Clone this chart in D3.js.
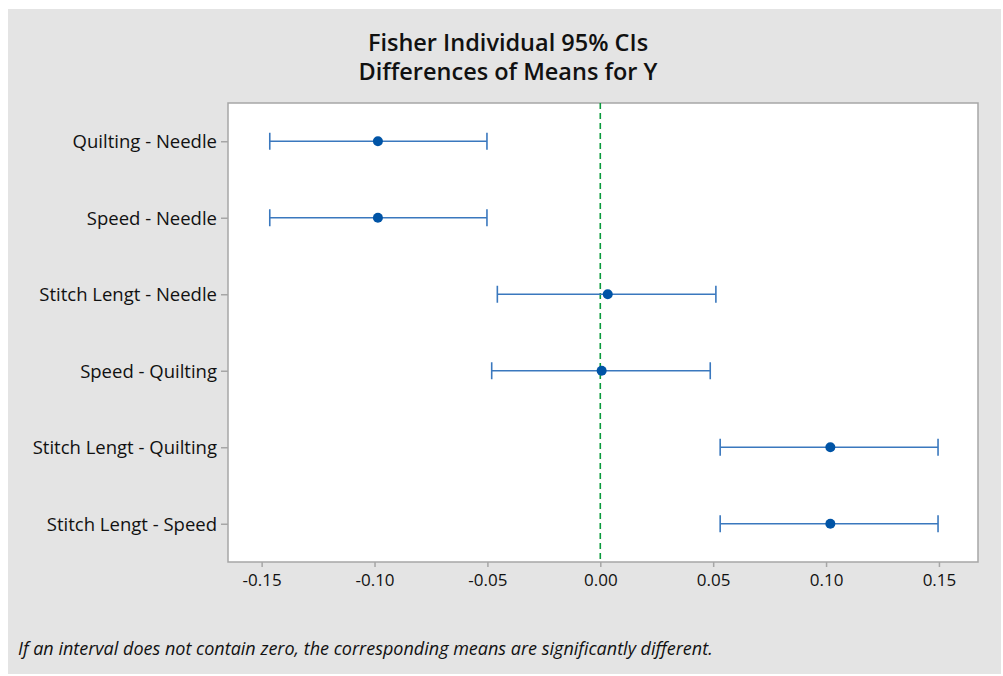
<!DOCTYPE html>
<html>
<head>
<meta charset="utf-8">
<script src="https://cdn.jsdelivr.net/npm/d3@7"></script>
<style>
  body { margin: 0; background: #fff; }
  svg { display: block; }
</style>
</head>
<body>
<script>
var w = 1003;
var h = 676;

var comparisons = ["Quilting - Needle", "Speed - Needle", "Stitch Lengt - Needle",
                   "Speed - Quilting", "Stitch Lengt - Quilting", "Stitch Lengt - Speed"];
var centers = [-0.0985, -0.0985, 0.0033, 0.0006, 0.1019, 0.1019];
var lowers  = [-0.1464, -0.1464, -0.0456, -0.0481, 0.0531, 0.0531];
var uppers  = [-0.0502, -0.0502, 0.0512, 0.0487, 0.1496, 0.1496];
var xTicks = [-0.15, -0.10, -0.05, 0.00, 0.05, 0.10, 0.15];

var plot = {left: 228, right: 978, top: 103, bottom: 562};
var font = "'Open Sans', 'Noto Sans', sans-serif";

var rows = comparisons.map(function(c, i) {
    return {name: c, mid: centers[i], lo: lowers[i], hi: uppers[i]};
});

var svg = d3.select("body").append("svg")
    .attr("width", w)
    .attr("height", h);

// grey frame
svg.append("rect")
    .attr("x", 8).attr("y", 9)
    .attr("width", 993).attr("height", 665)
    .attr("fill", "#e4e4e4");

var xScale = d3.scaleLinear()
    .domain([-0.1649, 0.1673])
    .range([plot.left, plot.right]);
var yScale = d3.scalePoint()
    .domain(comparisons)
    .range([plot.top, plot.bottom])
    .padding(0.5);

svg.append("rect")
    .attr("x", plot.left).attr("y", plot.top)
    .attr("width", plot.right - plot.left)
    .attr("height", plot.bottom - plot.top)
    .attr("fill", "#fff")
    .attr("stroke", "#a6a6a6")
    .attr("stroke-width", 1.5);

// title
var title = svg.append("text")
    .attr("text-anchor", "middle")
    .attr("font-family", font)
    .attr("font-weight", "600")
    .attr("font-size", "23.5px")
    .attr("fill", "#111");
title.append("tspan").attr("x", 508).attr("y", 51).text("Fisher Individual 95% CIs");
title.append("tspan").attr("x", 508).attr("y", 80).text("Differences of Means for Y");

// axes
var xAxis = d3.axisBottom(xScale)
    .tickValues(xTicks)
    .tickFormat(function(d) { return d.toFixed(2); })
    .tickSize(5)
    .tickPadding(7);
var yAxis = d3.axisLeft(yScale)
    .tickSize(7)
    .tickPadding(4);

var gx = svg.append("g")
    .attr("transform", "translate(0," + plot.bottom + ")")
    .call(xAxis);
var gy = svg.append("g")
    .attr("transform", "translate(" + plot.left + ",0)")
    .call(yAxis);

[gx, gy].forEach(function(g) {
    g.select(".domain").remove();
    g.selectAll(".tick line").attr("stroke", "#a6a6a6").attr("stroke-width", 1.5);
    g.selectAll(".tick text")
        .attr("font-family", font)
        .attr("font-weight", "500")
        .attr("fill", "#111");
});
gx.selectAll(".tick text").attr("font-size", "17px");
gy.selectAll(".tick text").attr("font-size", "18.5px").attr("dy", "0.35em");

// reference line at zero
svg.append("line")
    .attr("x1", xScale(0)).attr("x2", xScale(0))
    .attr("y1", plot.top).attr("y2", plot.bottom)
    .attr("stroke", "#0a9a3c")
    .attr("stroke-width", 1.6)
    .attr("stroke-dasharray", "6,4");

// intervals
var bars = svg.append("g").selectAll("g")
    .data(rows)
    .enter()
    .append("g");

bars.append("line")
    .attr("x1", function(d) { return xScale(d.lo); })
    .attr("x2", function(d) { return xScale(d.hi); })
    .attr("y1", function(d) { return yScale(d.name); })
    .attr("y2", function(d) { return yScale(d.name); })
    .attr("stroke", "#3a78be")
    .attr("stroke-width", 1.6);

["lo", "hi"].forEach(function(k) {
    bars.append("line")
        .attr("x1", function(d) { return xScale(d[k]); })
        .attr("x2", function(d) { return xScale(d[k]); })
        .attr("y1", function(d) { return yScale(d.name) - 8.5; })
        .attr("y2", function(d) { return yScale(d.name) + 8.5; })
        .attr("stroke", "#3a78be")
        .attr("stroke-width", 1.6);
});

bars.append("circle")
    .attr("cx", function(d) { return xScale(d.mid); })
    .attr("cy", function(d) { return yScale(d.name); })
    .attr("r", 5)
    .attr("fill", "#0054a6");

// footnote
svg.append("text")
    .attr("x", 18).attr("y", 655)
    .attr("font-family", font)
    .attr("font-style", "italic")
    .attr("font-size", "18px")
    .attr("fill", "#111")
    .text("If an interval does not contain zero, the corresponding means are significantly different.");
</script>
</body>
</html>
